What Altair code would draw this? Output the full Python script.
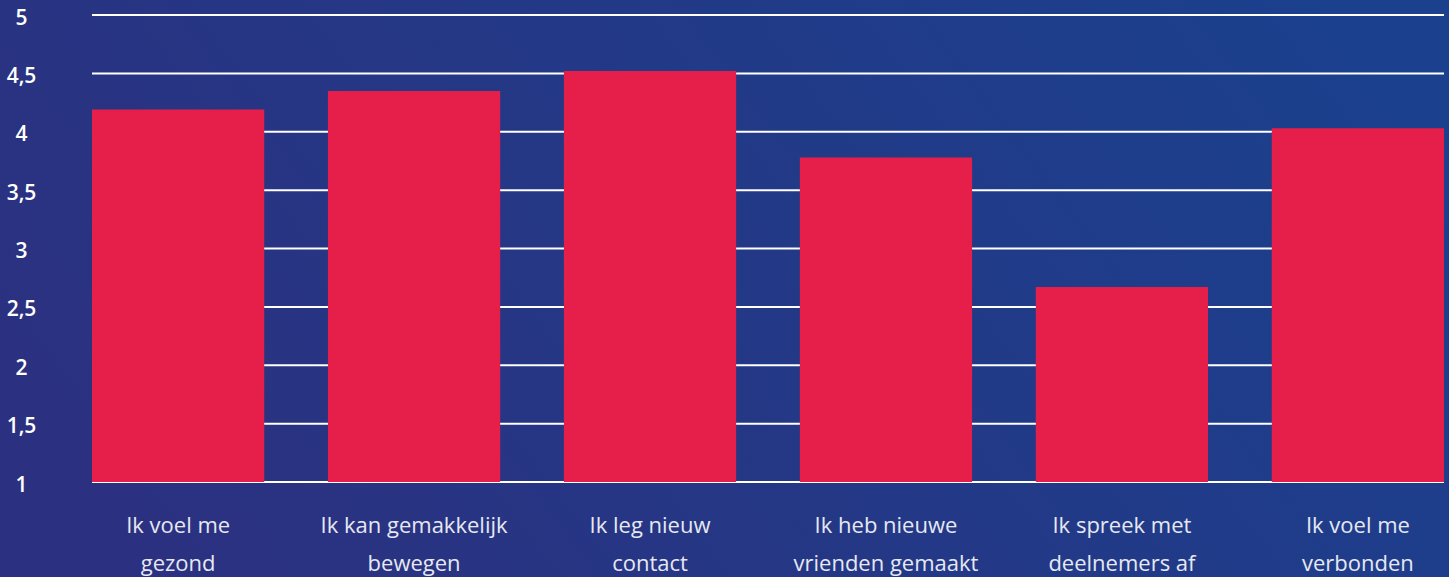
import altair as alt
import pandas as pd

categories = [
    "Ik voel me\ngezond",
    "Ik kan gemakkelijk\nbewegen",
    "Ik leg nieuw\ncontact",
    "Ik heb nieuwe\nvrienden gemaakt",
    "Ik spreek met\ndeelnemers af",
    "Ik voel me\nverbonden",
]
scores = [4.19, 4.35, 4.52, 3.78, 2.67, 4.03]
tick_values = [1, 1.5, 2, 2.5, 3, 3.5, 4, 4.5, 5]

W, H = 1352, 467
PAD = {"left": 92, "top": 15, "right": 5, "bottom": 95}
FONT = "Open Sans"

df = pd.DataFrame({"cat": categories, "score": scores})
grid_df = pd.DataFrame({"v": tick_values})

yscale = alt.Scale(domain=[1, 5], nice=False, zero=False)
yaxis = alt.Axis(values=tick_values, title=None, domain=False, ticks=False,
                 grid=False, zindex=2,
                 labelExpr="replace(toString(datum.value), '.', ',')",
                 labelAlign="center", labelPadding=71, labelFontSize=21,
                 labelOffset=3,
                 labelFontWeight=600, labelColor="#ffffff", labelFont=FONT)

bg = alt.Chart(pd.DataFrame({"a": [0]})).mark_rect(
    color=alt.Gradient(
        gradient="linear",
        stops=[alt.GradientStop(color="#2b3180", offset=0),
               alt.GradientStop(color="#1b408d", offset=1)],
        x1=0, x2=1, y1=0.6, y2=0.3,
    )
).encode(
    x=alt.value(-PAD["left"]), x2=alt.value(W + PAD["right"]),
    y=alt.value(-PAD["top"]), y2=alt.value(H + PAD["bottom"]),
)

grid = alt.Chart(grid_df).mark_rule(color="#ffffff", strokeWidth=2).encode(
    y=alt.Y("v:Q", scale=yscale, axis=yaxis)
)

bars = alt.Chart(df).mark_bar(color="#e51e4a").encode(
    x=alt.X("cat:N", sort=categories,
            scale=alt.Scale(paddingInner=0.27, paddingOuter=0),
            axis=alt.Axis(title=None, domain=False, ticks=False, labelAngle=0, zindex=2,
                          labelExpr="split(datum.label, '\\n')",
                          labelFontSize=22, labelColor="#e6e8f2", labelFont=FONT,
                          labelPadding=33, labelBaseline="top", labelLineHeight=38,
                          labelLimit=0)),
    y=alt.Y("score:Q", scale=yscale, axis=yaxis),
    y2=alt.datum(1),
)

chart = alt.layer(bg, grid, bars).properties(
    width=W, height=H,
    autosize=alt.AutoSizeParams(type="none"),
    padding=PAD,
    background="#25378a",
).configure_view(stroke=None)

chart.save("out.html", embed_options={"renderer": "svg", "actions": False})
